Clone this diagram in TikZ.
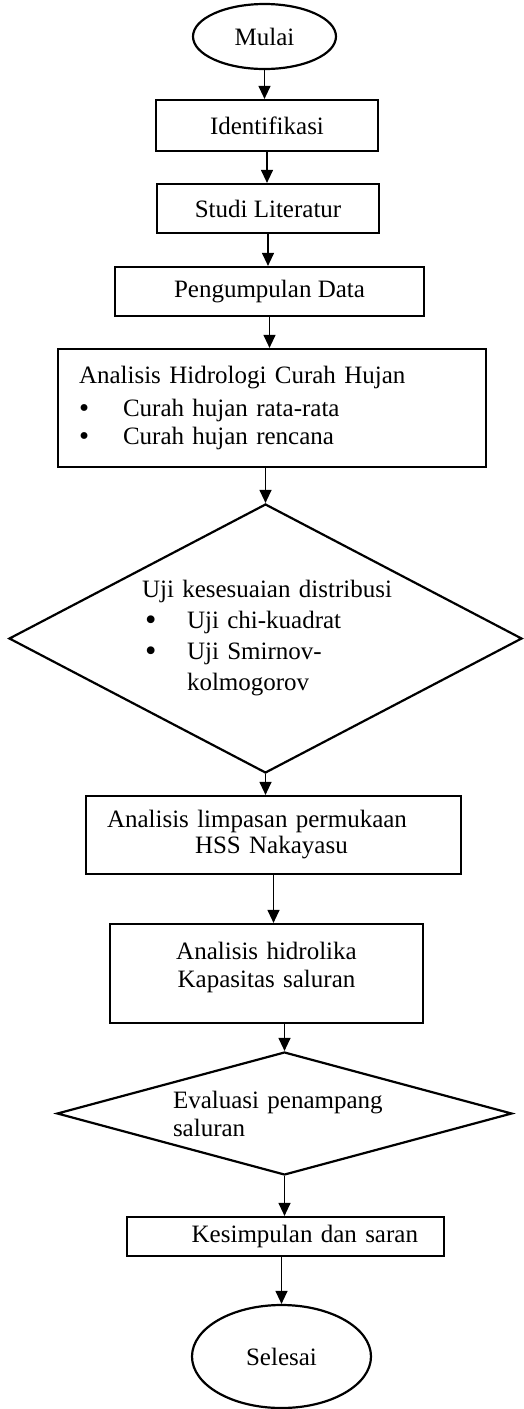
\documentclass[tikz,border=0pt]{standalone}
\usepackage{fontspec}
\setmainfont{Liberation Serif}
\usetikzlibrary{shapes.geometric,arrows.meta}
\newcommand{\nohyph}{\hyphenpenalty=10000\relax\exhyphenpenalty=10000\relax}
\newcommand{\bigbul}{\smash{\raisebox{-2pt}{\scalebox{1.3}{\textbullet}}}}
\newcommand{\midbul}{\smash{\raisebox{-1pt}{\scalebox{1.15}{\textbullet}}}}
\tikzset{
  base/.style={draw=black, line width=2.2pt, inner sep=0pt, font=\fontsize{25pt}{28pt}\selectfont\nohyph},
  terminal/.style={base, ellipse},
  procbox/.style={base, rectangle},
  decision/.style={base, diamond},
  arr/.style={line width=1.2pt, -{Triangle[length=13pt,width=12pt]}}
}
\begin{document}
\begin{tikzpicture}[x=1pt,y=-1pt]
\useasboundingbox (0,0) rectangle (523,1409);
\node[terminal, minimum width=143pt, minimum height=65pt] (mulai) at (264.5,36.5) {Mulai};
\node[procbox, minimum width=222pt, minimum height=51pt] (ident) at (267,125.5) {Identifikasi};
\node[procbox, minimum width=222pt, minimum height=49pt] (studi) at (268,208.5) {Studi Literatur};
\node[procbox, minimum width=309pt, minimum height=49pt] (peng) at (269.5,291.5) {Pengumpulan Data};
\node[procbox, minimum width=428pt, minimum height=118pt, text width=386pt, align=left] (ana) at (272,408)
  {Analisis Hidrologi Curah Hujan\\[5pt]
   \makebox[44pt][l]{\midbul}Curah hujan rata-rata\\
   \makebox[44pt][l]{\midbul}Curah hujan rencana};
\node[decision, minimum width=513pt, minimum height=269pt, shape aspect=1.907, text width=247pt, align=left,
      font=\fontsize{25pt}{31pt}\selectfont\nohyph] (d1) at (265.5,638.5)
  {\mbox{Uji kesesuaian distribusi}\\
   \makebox[45pt][l]{\hspace{3pt}\bigbul}Uji chi-kuadrat\\
   \makebox[45pt][l]{\hspace{3pt}\bigbul}Uji Smirnov-\\
   \hspace*{45pt}kolmogorov};
\node[procbox, minimum width=375pt, minimum height=78pt, text width=333pt, align=left,
      font=\fontsize{25pt}{26pt}\selectfont\nohyph] (hss) at (273.5,835)
  {Analisis limpasan permukaan\\ \hspace*{88pt}HSS Nakayasu};
\node[procbox, minimum width=313pt, minimum height=99pt, text width=280pt, align=center] (hid) at (266.5,973.5)
  {Analisis hidrolika\\Kapasitas saluran\\[-10pt]\mbox{}};
\node[decision, minimum width=455pt, minimum height=123pt, shape aspect=3.7, text width=223pt, align=left] (d2) at (284.5,1113.5)
  {Evaluasi penampang\\saluran};
\node[procbox, minimum width=317pt, minimum height=39pt, text width=265pt, align=right] (kes) at (285.5,1236.5)
  {Kesimpulan dan saran};
\node[terminal, minimum width=179pt, minimum height=103pt] (sel) at (281.5,1356.5) {Selesai};

\draw[arr] (mulai.south) -- (mulai.south |- ident.north);
\draw[arr] (ident.south) -- (ident.south |- studi.north);
\draw[arr] (studi.south) -- (studi.south |- peng.north);
\draw[arr] (peng.south) -- (peng.south |- ana.north);
\draw[arr] (d1.north |- ana.south) -- (d1.north);
\draw[arr] (d1.south) -- (d1.south |- hss.north);
\draw[arr] (hss.south) -- (hss.south |- hid.north);
\draw[arr] (d2.north |- hid.south) -- (d2.north);
\draw[arr] (d2.south) -- (d2.south |- kes.north);
\draw[arr] (sel.north |- kes.south) -- (sel.north);
\end{tikzpicture}
\end{document}
